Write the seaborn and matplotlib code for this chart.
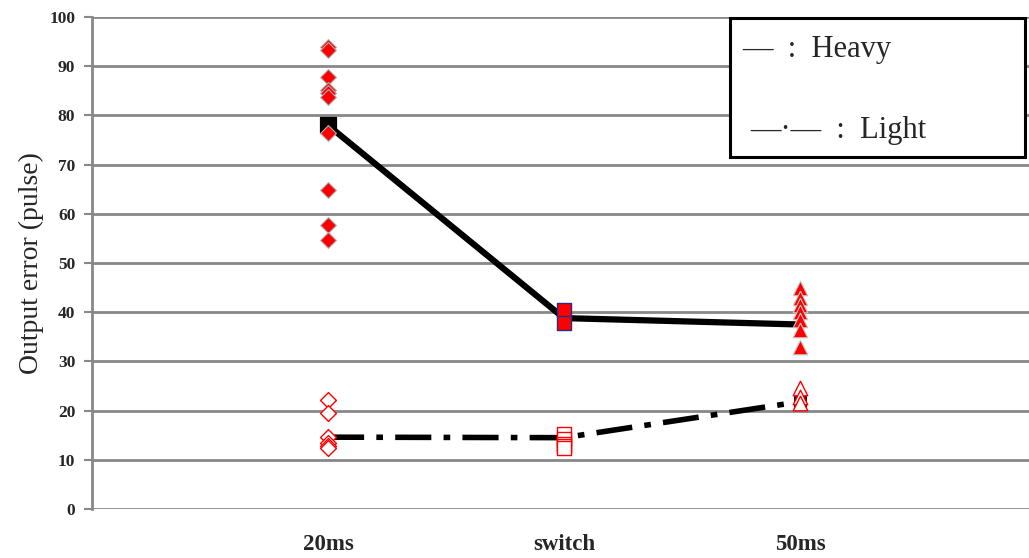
import numpy as np
import pandas as pd
import matplotlib
matplotlib.use("Agg")
import matplotlib.pyplot as plt
import seaborn as sns
from matplotlib.patches import Rectangle

# Conditions on the x axis
conditions = ["20ms", "switch", "50ms"]

# Individual trials, heavy load
heavy_20ms = [93.9, 93.3, 87.8, 85.2, 84.6, 83.7, 76.4, 64.8, 57.7, 54.7]
heavy_switch = [40.4, 37.9]
heavy_50ms = [45.0, 42.9, 41.5, 40.0, 38.4, 36.4, 33.0]

# Individual trials, light load
light_20ms = [22.2, 19.5, 14.6, 13.4, 12.8, 12.5]
light_switch = [15.2, 14.2, 13.3, 12.8, 12.4]
light_50ms = [24.6, 22.8, 21.5]

# Average curves
heavy_mean = [78.0, 38.8, 37.5]
light_mean = [14.6, 14.5, 21.8]

sns.set_style("white")
serif = ["Liberation Serif", "DejaVu Serif"]

fig = plt.figure(figsize=(10.29, 5.58), dpi=100)
ax = fig.add_axes([92 / 1029, 1 - 509 / 558, 1 - 92 / 1029, (509 - 17) / 558])

pos = {c: i + 1 for i, c in enumerate(conditions)}

def frame(vals, cond):
    return pd.DataFrame({"x": [pos[cond]] * len(vals), "y": vals})

# Mean lines
mean_df = pd.DataFrame({"x": [pos[c] for c in conditions], "heavy": heavy_mean, "light": light_mean})
sns.lineplot(data=mean_df, x="x", y="heavy", ax=ax, color="black", lw=4.5,
             solid_capstyle="butt", zorder=3)
sns.lineplot(data=mean_df, x="x", y="light", ax=ax, color="black", lw=4.0,
             dashes=False, zorder=3).lines[-1].set_dashes((6.5, 2.2, 1.2, 2.2))
sns.scatterplot(x=[pos["20ms"]], y=[heavy_mean[0]], marker="s", s=120, color="black",
                edgecolor="black", ax=ax, zorder=4)
sns.scatterplot(x=[pos["50ms"]], y=[light_mean[2]], marker="s", s=70, color="black",
                edgecolor="black", ax=ax, zorder=4)

# Heavy trials: filled markers
sns.scatterplot(data=frame(heavy_20ms, "20ms"), x="x", y="y", marker="D", s=65,
                color="red", edgecolor="#b0b0b0", linewidth=0.8, ax=ax, zorder=5)
sns.scatterplot(data=frame(heavy_switch, "switch"), x="x", y="y", marker="s", s=105,
                color="red", edgecolor="#2a2a8a", linewidth=1.0, ax=ax, zorder=5)
sns.scatterplot(data=frame(heavy_50ms, "50ms"), x="x", y="y", marker="^", s=110,
                color="red", edgecolor="#c8c8c8", linewidth=0.8, ax=ax, zorder=5)

# Light trials: hollow markers
sns.scatterplot(data=frame(light_20ms, "20ms"), x="x", y="y", marker="D", s=65,
                facecolor="white", edgecolor="red", linewidth=1.0, ax=ax, zorder=5)
sns.scatterplot(data=frame(light_switch, "switch"), x="x", y="y", marker="s", s=105,
                facecolor="white", edgecolor="red", linewidth=1.0, ax=ax, zorder=5)
sns.scatterplot(data=frame(light_50ms, "50ms"), x="x", y="y", marker="^", s=110,
                facecolor="white", edgecolor="red", linewidth=1.0, ax=ax, zorder=5)

ax.set_xlim(0, (1029 - 92) / 236)
ax.set_ylim(0, 100)
ax.set_yticks(np.arange(0, 101, 10))
ax.set_yticklabels([str(v) for v in range(0, 101, 10)], fontfamily=serif,
                   fontweight="bold", fontsize=12.5)
ax.set_xticks([pos[c] for c in conditions])
ax.set_xticklabels(conditions, fontfamily=serif, fontweight="bold", fontsize=16.5)
ax.tick_params(axis="x", length=0, pad=18)
ax.tick_params(axis="y", length=6, width=1.5, color="#888888", direction="out", pad=6, left=True)
ax.set_xlabel("")
ax.set_ylabel("Output error (pulse)", fontfamily=serif, fontsize=20, labelpad=4)

ax.grid(axis="y", color="#888888", lw=2)
ax.set_axisbelow(True)
for side in ["top", "right", "bottom"]:
    ax.spines[side].set_visible(False)
ax.spines["left"].set_color("#888888")
ax.spines["left"].set_linewidth(2)

# Key box
box = Rectangle((730 / 1029, 1 - 157 / 558), (1025 - 730) / 1029, (157 - 18) / 558,
                transform=fig.transFigure, facecolor="white", edgecolor="black",
                lw=2.2, zorder=10)
fig.patches.append(box)
fig.text(742 / 1029, 1 - 50 / 558, "—  :  Heavy", fontfamily=serif, fontsize=22,
         va="center", ha="left", zorder=11)
fig.text(750 / 1029, 1 - 131 / 558, "—·—  :  Light", fontfamily=serif, fontsize=22,
         va="center", ha="left", zorder=11)

fig.savefig("out.png", dpi=100)
